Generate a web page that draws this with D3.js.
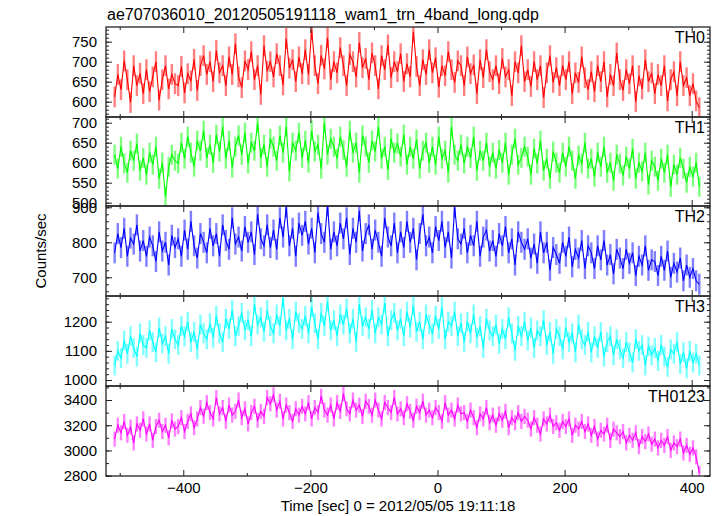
<!DOCTYPE html>
<html>
<head>
<meta charset="utf-8">
<script src="https://cdn.jsdelivr.net/npm/d3@7"></script>
<style>
  body { margin: 0; background: #fff; }
  svg { display: block; font-family: "Liberation Sans", Arial, Helvetica, sans-serif; }
</style>
</head>
<body>
<svg id="chart" width="717" height="516"></svg>
<script>
// ---------------- data ----------------
const times = d3.range(-508, 413, 5); // time bins [sec]

const th0 = [
  612,668,630,702,655,598,690,640,671,620,
  680,625,662,700,604,655,690,632,668,645,
  640,688,622,670,652,706,628,690,715,668,
  700,650,728,672,690,640,712,668,745,662,
  635,702,680,725,655,690,618,740,676,700,
  662,720,690,642,758,684,705,650,712,670,
  730,668,780,690,645,716,682,760,655,700,
  672,735,690,640,718,700,662,748,685,708,
  655,722,690,632,715,680,742,660,700,675,
  720,650,695,662,775,688,640,705,668,730,
  672,710,636,690,665,725,680,648,702,690,
  640,712,670,692,620,705,660,730,675,655,
  690,645,708,662,680,615,700,672,740,650,
  680,638,700,655,690,610,672,715,648,685,
  640,690,655,700,620,672,648,712,660,630,
  675,625,690,650,700,612,668,640,722,655,
  628,680,645,690,600,665,632,705,650,672,
  620,668,640,690,602,655,675,615,700,640,
  660,615,645,602,585
];

const th1 = [
  620,585,640,598,575,630,605,648,580,612,
  570,625,595,640,560,600,515,590,620,605,
  598,650,610,665,625,590,655,630,680,612,
  645,600,670,628,690,610,655,588,640,668,
  620,675,598,650,630,700,612,645,590,660,
  640,605,668,625,690,578,650,630,675,612,
  655,600,680,628,645,585,700,620,660,640,
  610,665,632,590,680,625,650,575,668,640,
  600,655,628,690,610,640,582,660,625,648,
  615,670,595,640,610,658,585,630,650,600,
  640,595,665,610,630,575,690,620,605,645,
  598,640,612,665,580,630,605,650,590,625,
  585,632,600,650,570,620,660,595,612,640,
  615,570,635,598,655,580,610,560,628,600,
  575,625,590,640,605,560,618,598,650,585,
  610,565,625,590,640,575,600,555,620,598,
  568,615,585,635,560,600,578,625,545,605,
  590,555,610,575,620,540,595,570,612,585,
  550,590,565,600,540
];

const th2 = [
  770,825,785,840,760,812,795,850,775,805,
  760,815,790,745,830,775,800,735,820,785,
  810,760,835,780,860,790,755,825,800,770,
  840,790,825,760,850,805,780,870,795,815,
  775,845,800,830,765,880,810,790,850,785,
  835,780,870,815,900,790,840,760,855,820,
  860,795,840,770,885,825,800,905,780,830,
  790,855,810,870,765,840,800,890,775,825,
  850,780,835,800,760,870,815,790,855,770,
  830,785,860,800,840,750,825,880,790,815,
  770,845,805,860,785,830,755,900,810,795,
  840,770,820,790,860,760,815,835,775,805,
  760,825,790,845,770,810,735,830,800,780,
  810,755,795,740,830,770,800,720,785,765,
  740,800,760,815,730,780,755,805,725,790,
  770,725,790,750,805,735,765,710,780,755,
  725,780,740,770,705,760,735,790,720,750,
  745,705,760,720,775,700,740,715,755,690,
  735,700,725,690,680
];

const th3 = [
  1050,1100,1075,1135,1090,1150,1110,1080,1160,1120,
  1110,1170,1130,1095,1180,1125,1150,1090,1175,1140,
  1120,1185,1150,1200,1130,1165,1105,1190,1160,1140,
  1195,1145,1220,1160,1130,1210,1175,1240,1150,1185,
  1230,1170,1205,1150,1260,1190,1215,1165,1240,1185,
  1160,1225,1185,1280,1170,1210,1140,1235,1195,1175,
  1220,1160,1250,1195,1140,1230,1185,1270,1170,1205,
  1150,1225,1190,1245,1160,1210,1130,1260,1185,1215,
  1175,1240,1160,1215,1190,1265,1150,1205,1230,1170,
  1210,1150,1235,1180,1255,1165,1200,1140,1225,1190,
  1160,1220,1175,1250,1140,1200,1185,1235,1150,1195,
  1130,1200,1160,1225,1145,1185,1110,1210,1170,1150,
  1190,1125,1175,1140,1215,1160,1100,1185,1150,1200,
  1135,1180,1110,1170,1150,1205,1120,1165,1090,1175,
  1150,1105,1180,1130,1160,1095,1190,1140,1120,1165,
  1095,1150,1110,1165,1080,1130,1150,1085,1140,1105,
  1075,1130,1095,1060,1140,1100,1120,1050,1115,1085,
  1110,1065,1120,1080,1045,1105,1090,1130,1055,1095,
  1040,1100,1060,1090,1050
];

const th0123 = [
  3090,3200,3140,3230,3120,3185,3060,3210,3160,3250,
  3130,3210,3080,3190,3240,3150,3200,3100,3235,3170,
  3190,3260,3150,3230,3290,3180,3250,3340,3270,3380,
  3300,3250,3420,3290,3340,3230,3360,3280,3310,3400,
  3260,3330,3210,3300,3350,3240,3310,3270,3420,3370,
  3440,3320,3390,3250,3360,3300,3230,3330,3280,3350,
  3290,3380,3250,3340,3300,3430,3320,3280,3360,3250,
  3380,3310,3450,3330,3290,3400,3320,3360,3270,3390,
  3350,3280,3400,3320,3250,3380,3340,3300,3420,3290,
  3330,3260,3370,3310,3240,3350,3300,3390,3280,3320,
  3260,3340,3300,3230,3380,3280,3320,3250,3360,3290,
  3300,3230,3320,3260,3180,3290,3250,3340,3220,3280,
  3200,3290,3240,3310,3180,3260,3220,3300,3230,3270,
  3240,3170,3260,3200,3130,3250,3210,3280,3190,3220,
  3160,3230,3190,3250,3120,3200,3170,3230,3150,3210,
  3120,3190,3090,3160,3130,3200,3080,3170,3140,3110,
  3150,3060,3120,3080,3140,3030,3110,3070,3130,3050,
  3090,3020,3080,3040,3110,3000,3060,3030,3090,2980,
  3040,2970,3020,2950,2820
];

const bandNames = ["TH0", "TH1", "TH2", "TH3", "TH0123"];
const bandErrors = [26, 25, 30, 34, 60];          // typical 1-sigma error bar
const bandColors = ["#ff0000", "#00ff00", "#0000ff", "#00ffff", "#ff00ff"];
const yDomains = [[561.7, 786.7], [491.7, 714.2], [646.6, 903.7], [979.5, 1288], [2797.6, 3511]];
const yMajorTicks = [[600, 650, 700, 750], [500, 550, 600, 650, 700], [700, 800, 900], [1000, 1100, 1200], [2800, 3000, 3200, 3400]];
const yMinorSteps = [10, 10, 20, 20, 100];
const xMajorTicks = [-400, -200, 0, 200, 400];
const xMinorTicks = [-500, -300, -100, 100, 300];

const titleText = "ae707036010_20120505191118_wam1_trn_4band_long.qdp";
const xLabelText = "Time [sec] 0 = 2012/05/05 19:11:18";
const yLabelText = "Counts/sec";

// ---------------- layout ----------------
const svg = d3.select("#chart");
const left = 106, right = 710;
const panelTops = [27, 117, 206, 296, 386];
const panelBottoms = [117, 206, 296, 386, 476];
const series = [th0, th1, th2, th3, th0123];

const x = d3.scaleLinear().domain([-521.6, 428.8]).range([left, right]);

const frameColor = "#222";

series.forEach((vals, p) => {
  const top = panelTops[p], bottom = panelBottoms[p];
  const y = d3.scaleLinear().domain(yDomains[p]).range([bottom, top]);
  const g = svg.append("g");
  const clipId = "clip" + p;
  svg.append("clipPath").attr("id", clipId)
    .append("rect").attr("x", left).attr("y", top).attr("width", right - left).attr("height", bottom - top);

  const data = times.map((t, i) => ({ t, v: vals[i] }));
  const err = bandErrors[p];
  const color = bandColors[p];

  const dg = g.append("g").attr("clip-path", `url(#${clipId})`);
  // error bars
  dg.selectAll("line.err").data(data).join("line")
    .attr("class", "err")
    .attr("x1", d => x(d.t)).attr("x2", d => x(d.t))
    .attr("y1", d => y(d.v - err)).attr("y2", d => y(d.v + err))
    .attr("stroke", color).attr("stroke-opacity", 0.5).attr("stroke-width", 2.4);
  // connecting line
  dg.append("path").datum(data)
    .attr("fill", "none").attr("stroke", color).attr("stroke-width", 1.1)
    .attr("d", d3.line().x(d => x(d.t)).y(d => y(d.v)));

  // frame
  g.append("rect").attr("x", left).attr("y", top).attr("width", right - left).attr("height", bottom - top)
    .attr("fill", "none").attr("stroke", frameColor).attr("stroke-width", 1.3);

  const minor = d3.range(Math.ceil(yDomains[p][0] / yMinorSteps[p]) * yMinorSteps[p], yDomains[p][1], yMinorSteps[p]);
  const styleAxis = sel => {
    sel.select(".domain").remove();
    sel.selectAll(".tick line").attr("stroke", frameColor).attr("stroke-width", 1);
    sel.selectAll(".tick text").attr("fill", "#000").style("font-size", "15px")
      .style("font-family", '"Liberation Sans", Arial, Helvetica, sans-serif');
  };
  g.append("g").attr("transform", `translate(${left},0)`)
    .call(d3.axisLeft(y).tickValues(minor).tickSize(-3).tickFormat("")).call(styleAxis);
  g.append("g").attr("transform", `translate(${right},0)`)
    .call(d3.axisRight(y).tickValues(minor).tickSize(-3).tickFormat("")).call(styleAxis);
  g.append("g").attr("transform", `translate(${left},0)`)
    .call(d3.axisLeft(y).tickValues(yMajorTicks[p]).tickSize(-6).tickPadding(9).tickFormat(d3.format("d"))).call(styleAxis);
  g.append("g").attr("transform", `translate(${right},0)`)
    .call(d3.axisRight(y).tickValues(yMajorTicks[p]).tickSize(-6).tickFormat("")).call(styleAxis);

  g.append("g").attr("transform", `translate(0,${top})`)
    .call(d3.axisTop(x).tickValues(xMinorTicks).tickSize(-3).tickFormat("")).call(styleAxis);
  g.append("g").attr("transform", `translate(0,${top})`)
    .call(d3.axisTop(x).tickValues(xMajorTicks).tickSize(-6).tickFormat("")).call(styleAxis);
  g.append("g").attr("transform", `translate(0,${bottom})`)
    .call(d3.axisBottom(x).tickValues(xMinorTicks).tickSize(-3).tickFormat("")).call(styleAxis);
  const isLast = p === series.length - 1;
  g.append("g").attr("transform", `translate(0,${bottom})`)
    .call(d3.axisBottom(x).tickValues(xMajorTicks).tickSize(-6).tickPadding(6)
      .tickFormat(isLast ? d3.format("d") : "")).call(styleAxis);

  g.append("text").attr("x", 705).attr("y", top + 16).attr("text-anchor", "end")
    .style("font-size", "16px").attr("fill", "#000").text(bandNames[p]);
});

svg.append("text").attr("x", 107).attr("y", 20).style("font-size", "16px").attr("fill", "#000").text(titleText);
svg.append("text").attr("x", 398).attr("y", 511).attr("text-anchor", "middle")
  .style("font-size", "15px").attr("fill", "#000").text(xLabelText);
svg.append("text").attr("transform", "translate(46,251) rotate(-90)").attr("text-anchor", "middle")
  .style("font-size", "15px").attr("fill", "#000").text(yLabelText);
</script>
</body>
</html>
